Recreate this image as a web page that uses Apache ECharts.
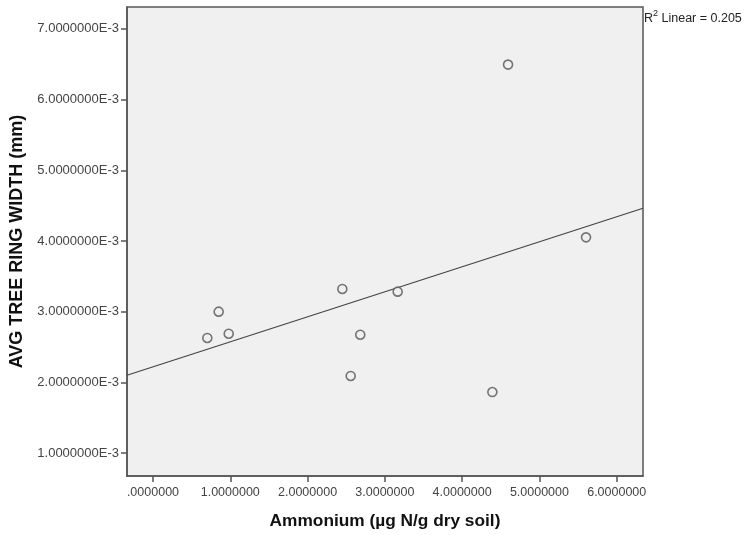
<!DOCTYPE html>
<html>
<head>
<meta charset="utf-8">
<script src="https://cdn.jsdelivr.net/npm/echarts@6/dist/echarts.min.js"></script>
<style>
  html, body { margin: 0; padding: 0; background: #ffffff; }
  #chart { width: 749px; height: 535px; }
</style>
</head>
<body>
<div id="chart"></div>
<script>
// Ammonium concentration per site (µg N/g dry soil)
const ammonium = [0.703, 0.850, 0.980, 2.450, 3.166, 2.682, 2.558, 4.594, 5.603, 4.391];
// Average tree ring width per site (mm)
const ringWidth = [0.002628, 0.003000, 0.002688, 0.003321, 0.003283, 0.002674, 0.002090, 0.006495, 0.004051, 0.001863];

// Tick positions
const xTicks = [0, 1, 2, 3, 4, 5, 6];
const yTicks = [0.001, 0.002, 0.003, 0.004, 0.005, 0.006, 0.007];

// Axis ranges
const xRange = [-0.336, 6.34];
const yRange = [0.000675, 0.00731];

// Least-squares fit and R²
const n = ammonium.length;
const mx = ammonium.reduce((s, v) => s + v, 0) / n;
const my = ringWidth.reduce((s, v) => s + v, 0) / n;
let sxx = 0, sxy = 0, syy = 0;
for (let i = 0; i < n; i++) {
  const dx = ammonium[i] - mx, dy = ringWidth[i] - my;
  sxx += dx * dx; sxy += dx * dy; syy += dy * dy;
}
const slope = sxy / sxx;
const intercept = my - slope * mx;
const r2 = (sxy * sxy) / (sxx * syy);
const fitLine = xRange.map(x => [x, intercept + slope * x]);

const points = ammonium.map((x, i) => [x, ringWidth[i]]);

const chart = echarts.init(document.getElementById('chart'), null, { renderer: 'canvas' });

const axisColor = '#555555';
const labelColor = '#444444';
const font = 'Arial, "Liberation Sans", sans-serif';

chart.setOption({
  animation: false,
  backgroundColor: '#ffffff',
  grid: {
    left: 127, top: 7, right: 106, bottom: 59,
    show: true,
    backgroundColor: '#f0f0f0',
    borderColor: axisColor,
    borderWidth: 1.5
  },
  xAxis: {
    type: 'value',
    min: xRange[0],
    max: xRange[1],
    name: 'Ammonium (µg N/g dry soil)',
    nameLocation: 'middle',
    nameGap: 37,
    nameTextStyle: { fontFamily: font, fontSize: 17.3, fontWeight: 'bold', color: '#111' },
    axisLine: { show: true, onZero: false, lineStyle: { color: axisColor, width: 1.5 } },
    axisTick: { show: true, length: 6, customValues: xTicks, lineStyle: { color: axisColor, width: 1.5 } },
    axisLabel: {
      customValues: xTicks,
      margin: 10,
      fontFamily: font, fontSize: 12.5, color: labelColor,
      formatter: v => {
        const s = Number(v).toFixed(7);
        return s.startsWith('0.') ? s.slice(1) : s;
      }
    },
    splitLine: { show: false }
  },
  yAxis: {
    type: 'value',
    min: yRange[0],
    max: yRange[1],
    name: 'AVG TREE RING WIDTH (mm)',
    nameLocation: 'middle',
    nameRotate: 90,
    nameGap: 97,
    nameTextStyle: { fontFamily: font, fontSize: 18, fontWeight: 'bold', color: '#111' },
    axisLine: { show: true, onZero: false, lineStyle: { color: axisColor, width: 1.5 } },
    axisTick: { show: true, length: 6, customValues: yTicks, lineStyle: { color: axisColor, width: 1.5 } },
    axisLabel: {
      customValues: yTicks,
      margin: 8,
      fontFamily: font, fontSize: 13, color: labelColor,
      formatter: v => Number(v).toExponential(7).replace('e', 'E')
    },
    splitLine: { show: false }
  },
  series: [
    {
      name: 'Fit',
      type: 'line',
      data: fitLine,
      showSymbol: false,
      symbol: 'none',
      silent: true,
      lineStyle: { color: '#444444', width: 1.2 },
      z: 2
    },
    {
      name: 'Sites',
      type: 'scatter',
      data: points,
      symbol: 'circle',
      symbolSize: 9,
      itemStyle: { color: '#f0f0f0', borderColor: '#555555', borderWidth: 1.6 },
      z: 3
    }
  ],
  graphic: [
    {
      type: 'text',
      left: 644,
      top: 9,
      style: {
        text: '{b|R}{s|2}{b| Linear = ' + r2.toFixed(3) + '}',
        rich: {
          b: { fontFamily: font, fontSize: 12.5, fill: '#222', verticalAlign: 'bottom', lineHeight: 16 },
          s: { fontFamily: font, fontSize: 9, fill: '#222', verticalAlign: 'top', lineHeight: 16, padding: [0, 0, 7, 0] }
        }
      }
    }
  ]
});
</script>
</body>
</html>
